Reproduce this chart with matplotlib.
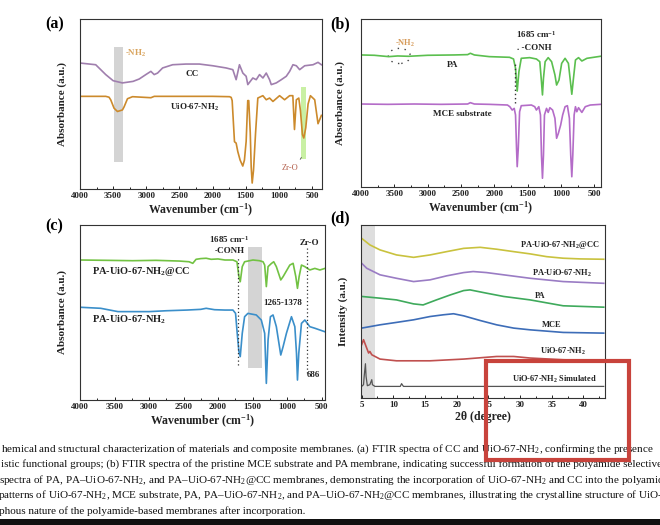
import matplotlib
matplotlib.use("Agg")
import matplotlib.pyplot as plt
from matplotlib.patches import Rectangle, Ellipse
from matplotlib.ticker import MultipleLocator

plt.rcParams["font.family"] = ["Liberation Serif", "DejaVu Serif"]
plt.rcParams["mathtext.fontset"] = "custom"
plt.rcParams["mathtext.rm"] = "Liberation Serif"
plt.rcParams["mathtext.bf"] = "Liberation Serif:bold"
plt.rcParams["mathtext.it"] = "Liberation Serif:italic"

# (a) FTIR of CC and UiO-67-NH2  (wavenumber, absorbance a.u.)
a_cc_wn = [4000, 3763, 3612, 3500, 3360, 3200, 3107, 3007, 2931, 2881, 2830, 2754, 2603, 2401,
           2200, 1998, 1796, 1695, 1645, 1595, 1544, 1494, 1469, 1393, 1342, 1292, 1241, 1191,
           1141, 1115, 1040, 964, 889, 838, 788, 737, 687, 611, 485, 410, 359]
a_cc_abs = [74.1, 73.1, 67.3, 63.7, 62.4, 63.3, 64.7, 67.3, 69.2, 67.3, 68.2, 71.2, 73.1, 73.5,
            73.5, 72.5, 71.2, 70.2, 64.3, 73.1, 68.2, 66.3, 61.4, 65.3, 64.3, 67.3, 65.3, 68.2,
            64.3, 61.4, 62.4, 64.3, 66.3, 69.2, 73.1, 72.5, 70.2, 72.5, 73.1, 74.5, 73.1]
a_uio_wn = [4000, 3612, 3562, 3536, 3486, 3435, 3360, 3334, 3284, 3208, 2931, 2880, 2000, 1745,
            1720, 1705, 1670, 1645, 1620, 1585, 1545, 1520, 1494, 1470, 1455, 1432, 1418, 1403,
            1383, 1352, 1318, 1242, 1191, 1141, 1090, 990, 914, 838, 790, 765, 737, 700, 675,
            645, 625, 595, 560, 525, 460, 410, 359]
a_uio_abs = [54.5, 54.5, 54.0, 52.4, 47.5, 45.6, 46.5, 48.4, 53.1, 54.3, 53.7, 54.5, 54.5, 54.3,
             53.9, 52.0, 27.8, 27.0, 22.0, 17.0, 13.5, 17.0, 28.0, 52.0, 52.0, 33.0, 13.0, 3.5,
             11.0, 33.0, 53.5, 54.9, 52.5, 53.5, 51.5, 54.9, 52.5, 54.9, 54.9, 35.0, 52.5, 53.5,
             46.0, 32.0, 30.0, 36.0, 50.0, 54.9, 52.5, 38.4, 43.3]

# (b) FTIR of PA and MCE substrate
b_pa_wn = [4000, 3800, 3585, 3450, 3285, 3000, 2600, 2400, 2360, 2300, 2076, 1772, 1712, 1682,
           1657, 1631, 1596, 1470, 1369, 1318, 1293, 1278, 1263, 1238, 1192, 1141, 1091, 1066,
           1030, 990, 939, 889, 864, 838, 813, 783, 737, 687, 611, 510, 409]
b_pa_abs = [78.6, 78.4, 77.6, 78.0, 77.8, 78.4, 78.6, 78.8, 79.6, 78.6, 77.6, 77.2, 76.2, 70.6,
            57.1, 68.7, 76.6, 77.0, 76.2, 74.6, 62.7, 54.8, 64.7, 74.6, 77.0, 74.6, 66.7, 60.7,
            63.7, 73.6, 76.6, 73.6, 64.7, 55.2, 64.7, 75.6, 77.0, 75.0, 76.6, 77.2, 77.8]
b_mce_wn = [4000, 3600, 3200, 2800, 2400, 2360, 2300, 2076, 1803, 1768, 1732, 1702, 1682, 1667,
            1657, 1641, 1621, 1596, 1444, 1394, 1369, 1333, 1308, 1293, 1278, 1263, 1248, 1217,
            1192, 1167, 1126, 1091, 1066, 1040, 1005, 975, 939, 904, 874, 854, 838, 823, 803,
            783, 763, 737, 687, 636, 561, 409]
b_mce_abs = [49.4, 49.2, 49.4, 49.2, 49.4, 50.2, 49.4, 49.2, 48.8, 47.8, 45.8, 46.8, 42.9, 23.0,
             12.1, 23.0, 44.8, 48.4, 48.8, 47.8, 45.8, 47.8, 42.9, 19.0, 5.2, 19.0, 42.9, 46.8,
             44.4, 47.2, 45.8, 40.9, 29.0, 31.9, 36.9, 42.9, 47.8, 48.4, 40.9, 19.0, 6.1, 19.0,
             42.9, 47.8, 44.8, 47.2, 44.4, 47.8, 48.8, 49.2]

# (c) FTIR of PA-UiO-67-NH2@CC and PA-UiO-67-NH2
c_cc_wn = [4000, 3600, 3239, 2900, 2560, 2420, 2366, 2318, 2250, 2172, 2100, 2000, 1900, 1784,
           1726, 1697, 1678, 1649, 1615, 1494, 1400, 1348, 1324, 1300, 1275, 1227, 1193, 1155,
           1091, 1057, 960, 912, 873, 849, 825, 791, 742, 670, 597, 524, 451]
c_cc_abs = [80.0, 79.8, 79.6, 79.8, 79.4, 79.0, 78.1, 80.4, 80.8, 81.0, 80.4, 80.6, 80.0, 80.0,
            79.0, 70.5, 67.6, 76.2, 79.0, 80.0, 79.6, 79.0, 77.1, 64.8, 76.2, 78.0, 79.0, 76.2,
            68.6, 70.5, 77.1, 78.1, 70.5, 63.8, 70.5, 77.1, 76.2, 74.3, 75.2, 74.3, 75.2]
c_uio_wn = [4000, 3700, 3450, 3000, 2750, 2450, 2250, 2172, 2050, 1900, 1784, 1746, 1722, 1697,
            1678, 1649, 1615, 1567, 1446, 1373, 1324, 1300, 1275, 1241, 1203, 1155, 1091, 1057,
            1009, 936, 887, 863, 849, 830, 791, 742, 670, 597, 524, 451]
c_uio_abs = [53.0, 52.4, 50.5, 50.5, 51.0, 51.4, 51.8, 52.4, 51.6, 51.4, 51.4, 49.5, 38.1, 27.6,
             24.8, 38.1, 47.6, 49.5, 48.6, 45.7, 38.1, 9.5, 34.3, 47.6, 48.6, 41.9, 25.7, 30.5,
             38.1, 47.6, 41.9, 26.7, 11.4, 26.7, 43.8, 45.7, 41.9, 41.0, 40.0, 39.0]

# (d) XRD patterns (2theta, intensity a.u.)
d_cc_tt = [5.0, 6.3, 7.9, 10.5, 13.2, 15.8, 18.4, 21.1, 23.7, 26.3, 29.0, 31.6, 34.2, 36.8, 39.5, 43.2]
d_cc_int = [92.3, 88.5, 85.6, 82.7, 81.3, 82.7, 84.6, 86.5, 87.1, 86.0, 84.6, 83.3, 81.7, 80.8, 80.4, 80.2]
d_puio_tt = [5.0, 5.8, 7.9, 10.5, 13.2, 15.8, 18.4, 21.1, 22.6, 24.7, 27.4, 31.6, 36.8, 43.2]
d_puio_int = [77.9, 75.0, 71.2, 69.2, 67.3, 68.3, 70.6, 72.5, 73.1, 72.5, 71.2, 69.2, 67.3, 66.3]
d_pa_tt = [5.0, 7.9, 10.5, 13.2, 14.7, 16.8, 19.0, 21.1, 22.1, 24.7, 27.4, 31.6, 36.8, 43.2]
d_pa_int = [58.7, 57.7, 56.7, 54.4, 53.8, 56.7, 59.6, 62.1, 62.5, 60.6, 58.7, 56.7, 53.3, 52.5]
d_mce_tt = [5.0, 7.9, 10.5, 13.2, 15.8, 17.9, 19.5, 21.1, 23.7, 26.3, 29.0, 31.6, 36.8, 43.2]
d_mce_int = [40.4, 42.3, 43.7, 45.2, 47.1, 48.1, 48.7, 47.5, 44.8, 42.3, 40.4, 39.4, 37.9, 37.5]
d_uio_tt = [5.0, 5.3, 5.7, 6.1, 6.3, 6.6, 7.9, 10.5, 15.8, 21.1, 26.3, 29.0, 31.6, 36.8, 43.2]
d_uio_int = [30.8, 33.7, 29.8, 26.0, 26.9, 25.0, 22.5, 21.5, 21.5, 22.5, 24.0, 24.0, 23.1, 22.1, 21.5]
d_sim_tt = [5.0, 5.3, 5.4, 5.6, 5.7, 5.9, 6.3, 6.6, 6.7, 7.1, 11.1, 11.3, 11.6, 43.2]
d_sim_int = [6.7, 7.7, 12.5, 19.8, 12.5, 7.1, 7.7, 10.6, 7.7, 6.7, 6.7, 8.3, 6.7, 6.7]

caption_lines = [
    "hemical and structural characterization of materials and composite membranes. (a) FTIR spectra of CC and UiO-67-NH$_2$, confirming the presence",
    "istic functional groups; (b) FTIR spectra of the pristine MCE substrate and PA membrane, indicating successful formation of the polyamide selective",
    "spectra of PA, PA\u2013UiO-67-NH$_2$, and PA\u2013UiO-67-NH$_2$@CC membranes, demonstrating the incorporation of UiO-67-NH$_2$ and CC into the polyamide",
    "patterns of UiO-67-NH$_2$, MCE substrate, PA, PA\u2013UiO-67-NH$_2$, and PA\u2013UiO-67-NH$_2$@CC membranes, illustrating the crystalline structure of UiO-67-NH$_2$",
    "phous nature of the polyamide-based membranes after incorporation.",
]

W, H = 660, 525
fig = plt.figure(figsize=(W / 100, H / 100), dpi=100)


def px_axes(left, top, right, bottom):
    return fig.add_axes([left / W, 1 - bottom / H, (right - left) / W, (bottom - top) / H])


def style_axes(ax, ylabel, xlabel):
    for s in ax.spines.values():
        s.set_color("#333333")
        s.set_linewidth(0.8)
    ax.set_yticks([])
    ax.tick_params(axis="x", direction="in", length=2.5, width=0.7, pad=2.5,
                   labelsize=6.5, colors="#222222")
    ax.tick_params(axis="x", which="minor", direction="in", length=1.3, width=0.6)
    for t in ax.get_xticklabels():
        t.set_fontweight("bold")
    ax.set_ylabel(ylabel, fontsize=8, fontweight="bold", color="#222222")
    ax.set_xlabel(xlabel, fontsize=8.5, fontweight="bold", color="#222222", labelpad=1)
    ax.set_ylim(0, 100)


wn_label = r"Wavenumber (cm$^{\mathbf{-1}}$)"
lab_kw = dict(fontsize=6.5, fontweight="bold", color="#222222")

# ---- (a)
ax = px_axes(80, 19, 322, 189)
ax.axvspan(3350, 3486, ymin=0.157, ymax=0.833, color="#d4d4d4", lw=0)
ax.axvspan(597, 662, ymin=0.176, ymax=0.60, color="#c9f0a4", lw=0)
ax.plot(a_cc_wn, a_cc_abs, color="#a07fae", lw=1.2)
ax.plot(a_uio_wn, a_uio_abs, color="#cc8a2c", lw=1.2)
ax.set_xlim(4000, 350)
ax.xaxis.set_major_locator(MultipleLocator(500))
ax.xaxis.set_minor_locator(MultipleLocator(250))
style_axes(ax, "Absorbance (a.u.)", wn_label)
ax.yaxis.set_label_coords(-0.055, 0.5)
ax.text(3319, 80, r"-NH$_\mathbf{2}$", ha="left", va="center", fontsize=6.5,
        fontweight="bold", color="#d9a45e")
ax.text(2306, 67.8, "CC", ha="center", va="center", **lab_kw)
ax.text(2270, 48.2, r"UiO-67-NH$_\mathbf{2}$", ha="center", va="center", **lab_kw)
ax.text(838, 12.4, "Zr-O", ha="center", va="center", fontsize=6, color="#b4604c")
ax.annotate("", xy=(640, 20), xytext=(700, 16),
            arrowprops=dict(arrowstyle="-", color="#555555", lw=0.6))

# ---- (b)
ax = px_axes(361, 19, 601, 187)
ax.plot(b_pa_wn, b_pa_abs, color="#5bbf4f", lw=1.2)
ax.plot(b_mce_wn, b_mce_abs, color="#b46cc8", lw=1.2)
ax.plot([1690, 1690], [50, 74], ls=(0, (1, 2)), color="#333333", lw=1)
ax.add_patch(Ellipse((3425, 78), 330, 9, fill=False, ls=(0, (1, 4)), lw=1.0,
                     edgecolor="#444444"))
ax.set_xlim(4000, 400)
ax.xaxis.set_major_locator(MultipleLocator(500))
ax.xaxis.set_minor_locator(MultipleLocator(250))
style_axes(ax, "Absorbance (a.u.)", wn_label)
ax.yaxis.set_label_coords(-0.065, 0.5)
ax.text(3338, 85.7, r"-NH$_\mathbf{2}$", ha="center", va="center", fontsize=6,
        fontweight="bold", color="#d69a58")
ax.text(1369, 90.5, r"1685 cm$^{\mathbf{-1}}$", ha="center", va="center", **lab_kw)
ax.text(1400, 83, ". -CONH", ha="center", va="center", **lab_kw)
ax.text(2621, 72.6, "PA", ha="center", va="center", **lab_kw)
ax.text(2485, 43.5, "MCE substrate", ha="center", va="center", **lab_kw)

# ---- (c)
ax = px_axes(80, 225, 325, 400)
ax.axvspan(1363, 1566, ymin=0.181, ymax=0.872, color="#d4d4d4", lw=0)
ax.plot(c_cc_wn, c_cc_abs, color="#72c243", lw=1.2)
ax.plot(c_uio_wn, c_uio_abs, color="#3b8fca", lw=1.2)
ax.plot([1715, 1715], [20, 81.9], ls=(0, (1, 2)), color="#333333", lw=0.9)
ax.plot([708, 708], [15.2, 86.7], ls=(0, (1, 2)), color="#333333", lw=0.9)
ax.set_xlim(4000, 450)
ax.xaxis.set_major_locator(MultipleLocator(500))
ax.xaxis.set_minor_locator(MultipleLocator(250))
style_axes(ax, "Absorbance (a.u.)", wn_label)
ax.yaxis.set_label_coords(-0.055, 0.5)
ax.text(1833, 91.8, r"1685 cm$^{\mathbf{-1}}$", ha="center", va="center", **lab_kw)
ax.text(1833, 85.3, "-CONH", ha="center", va="center", **lab_kw)
ax.text(1057, 55.2, "1265-1378", ha="center", va="center", **lab_kw)
ax.text(670, 89.5, "Zr-O", ha="center", va="center", **lab_kw)
ax.text(621, 14.3, "686", ha="center", va="center", **lab_kw)
ax.text(3820, 73.7, r"PA-UiO-67-NH$_\mathbf{2}$@CC", ha="left", va="center",
        fontsize=7.5, fontweight="bold", color="#222222")
ax.text(3820, 45.7, r"PA-UiO-67-NH$_\mathbf{2}$", ha="left", va="center",
        fontsize=7.5, fontweight="bold", color="#222222")

# ---- (d)
ax = px_axes(361, 225, 605, 398)
ax.axvspan(5, 7.1, color="#dedede", lw=0)
ax.plot(d_cc_tt, d_cc_int, color="#c9c23e", lw=1.2)
ax.plot(d_puio_tt, d_puio_int, color="#9a7cc4", lw=1.2)
ax.plot(d_pa_tt, d_pa_int, color="#3faa5c", lw=1.2)
ax.plot(d_mce_tt, d_mce_int, color="#3d6db8", lw=1.2)
ax.plot(d_uio_tt, d_uio_int, color="#c0504f", lw=1.2)
ax.plot(d_sim_tt, d_sim_int, color="#555555", lw=0.9)
ax.set_xlim(4.9, 43.4)
ax.xaxis.set_major_locator(MultipleLocator(5))
ax.xaxis.set_minor_locator(MultipleLocator(2.5))
style_axes(ax, "Intensity (a.u.)", "2\u03b8 (degree)")
ax.yaxis.set_label_coords(-0.053, 0.5)
dkw = dict(fontsize=6, fontweight="bold", color="#222222", va="center")
ax.text(42.6, 88.5, r"PA-UiO-67-NH$_\mathbf{2}$@CC", ha="right", **dkw)
ax.text(41.3, 72.1, r"PA-UiO-67-NH$_\mathbf{2}$", ha="right", **dkw)
ax.text(33.2, 59.0, "PA", ha="center", **dkw)
ax.text(35.0, 42.3, "MCE", ha="center", **dkw)
ax.text(40.5, 26.9, r"UiO-67-NH$_\mathbf{2}$", ha="right", **dkw)
ax.text(42.1, 10.6, r"UiO-67-NH$_\mathbf{2}$ Simulated", ha="right", **dkw)

# panel letters
for s, x, y in [("(a)", 45, 24.5), ("(b)", 330, 24.5), ("(c)", 45, 226), ("(d)", 330, 218)]:
    fig.text(x / W, 1 - y / H, s, fontsize=11.5, fontweight="bold", ha="left", va="center")

# caption (cut off at both figure edges, as in the screenshot)
for i, line in enumerate(caption_lines):
    y = [449, 464.5, 480, 495.5, 511][i]
    x = [1, 1, -1, -2, -1][i]
    fig.text(x / W, 1 - y / H, line, fontsize=8.05, ha="left", va="center", color="#111111")

# bottom black bar and red highlight box
fig.add_artist(Rectangle((0, 0), 1, 6 / H, transform=fig.transFigure,
                         facecolor="#111111", edgecolor="none", zorder=5))
fig.add_artist(Rectangle((486 / W, 1 - 460 / H), 143 / W, 99 / H, transform=fig.transFigure,
                         fill=False, edgecolor="#c8433c", lw=3, zorder=10))

fig.savefig("out.png", dpi=100)
